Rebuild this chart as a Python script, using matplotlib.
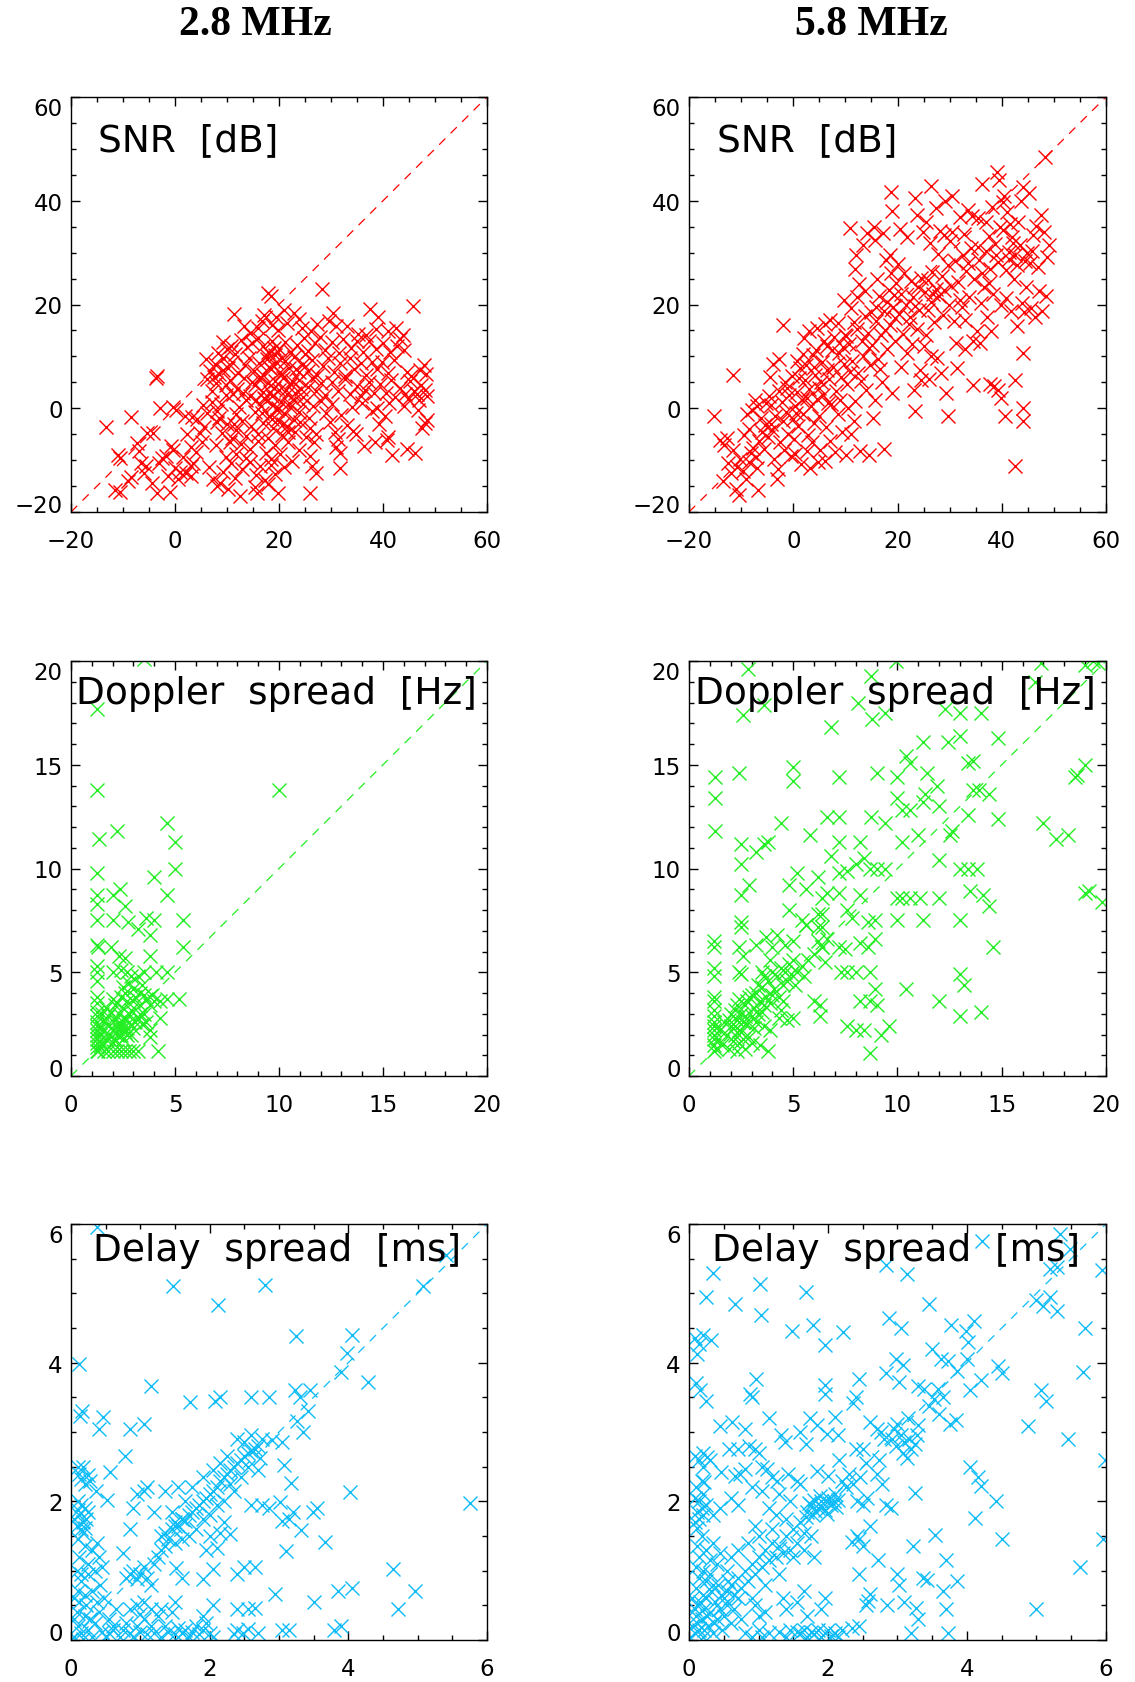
import numpy as np
import matplotlib
matplotlib.use("Agg")
import matplotlib.pyplot as plt
from matplotlib.ticker import MultipleLocator

# values (x = one sounding, y = the other)

snr_28 = [
    (-13.2, -3.6), (-8.4, -1.7), (-3.6, 5.8), (-3.4, 6.3), (-2.9, 0.1), (-0.4, 0.2), (0.1, -0.3),
    (-11.0, -9.0), (-10.5, -9.5), (-11.6, -15.7), (-10.5, -16.1), (-8.4, -13.2), (-9.0, -14.0),
    (-7.4, -6.7), (-7.0, -8.2), (-6.5, -10.6), (-6.0, -12.5), (-5.6, -11.2), (-5.4, -4.8),
    (-4.2, -4.7), (-4.4, -14.5), (-3.5, -16.4), (-3.0, -10.6), (-2.5, -9.6), (-1.7, -9.2),
    (-1.0, -16.2), (-1.3, -13.0), (-0.4, -8.1), (0.0, -11.5), (0.6, -13.6), (1.0, -12.3),
    (1.5, -9.4), (2.2, -12.4), (3.0, -11.2), (3.5, -10.6), (4.2, -2.1), (4.8, -4.8), (5.2, -6.5),
    (3.0, -7.5), (2.0, -1.4), (6.1, -0.9), (7.4, -13.7), (8.7, -14.4),
    (11.3, 18.2), (17.9, 22.3), (18.4, 21.6), (28.2, 23.0), (45.8, 19.8), (37.5, 19.1), (39.1, 17.6),
    (17.2, 18.0), (19.5, 17.5), (22.8, 18.4), (30.4, 18.3), (21.0, 19.0),
    (14.5, 14.6), (16.0, 15.5), (16.8, 16.8), (18.6, 16.0), (19.8, 15.0), (21.5, 16.5), (23.8, 17.2),
    (24.5, 15.4), (26.2, 14.8), (27.4, 16.2), (29.6, 16.9), (31.0, 15.8), (33.0, 15.9), (35.2, 14.4),
    (36.8, 14.2), (41.0, 14.8), (42.5, 15.5), (43.9, 14.2), (38.6, 15.2), (13.2, 15.8),
    (8.2, 10.6), (10.0, 11.4), (10.8, 12.0), (11.5, 10.5), (12.6, 13.2), (13.8, 11.8), (14.9, 12.6),
    (16.0, 13.5), (17.0, 12.0), (17.8, 10.8), (18.7, 13.0), (20.0, 11.5), (21.2, 12.8), (22.4, 10.9),
    (23.5, 12.2), (24.8, 13.6), (25.6, 11.0), (26.9, 12.5), (27.8, 13.8), (28.9, 11.2), (30.2, 12.7),
    (31.5, 10.6), (32.4, 13.3), (33.8, 11.6), (35.0, 12.9), (36.2, 10.8), (37.4, 13.0), (38.7, 11.5),
    (40.0, 12.5), (41.3, 10.9), (42.6, 12.0), (43.2, 13.4), (44.0, 11.2), (9.3, 12.8), (19.2, 10.3),
    (6.0, 9.4), (6.8, 7.2), (7.6, 8.5), (8.4, 6.6), (9.3, 9.6), (10.1, 7.8), (11.0, 9.0), (12.2, 6.8),
    (13.5, 8.4), (14.3, 9.7), (15.2, 7.1), (16.1, 8.8), (16.9, 6.4), (17.7, 9.5), (18.5, 7.6),
    (19.4, 8.9), (20.3, 6.6), (21.1, 9.2), (22.0, 7.8), (22.9, 9.9), (23.8, 6.9), (24.6, 8.5),
    (25.5, 7.2), (26.4, 9.3), (27.3, 6.4), (28.4, 8.1), (29.5, 9.6), (30.6, 7.0), (31.8, 8.8),
    (32.7, 6.3), (33.6, 9.7), (34.5, 7.5), (35.7, 8.7), (36.8, 6.5), (37.9, 9.0), (38.8, 7.6),
    (39.9, 8.9), (41.0, 6.8), (42.2, 9.3), (44.6, 7.0), (45.3, 6.2), (47.2, 7.4), (47.8, 8.3), (48.3, 6.6),
    (6.2, 5.6), (7.1, 3.3), (7.9, 4.8), (9.8, 2.6), (10.5, 5.4), (12.0, 3.7), (13.2, 5.9), (14.4, 2.4),
    (15.3, 4.4), (16.2, 5.7), (17.0, 3.1), (17.8, 4.9), (18.6, 2.3), (19.3, 5.2), (20.0, 3.6),
    (20.8, 5.8), (21.5, 2.7), (22.3, 4.6), (23.1, 3.0), (23.9, 5.5), (24.7, 2.2), (25.5, 4.1),
    (26.3, 5.9), (27.2, 3.3), (28.0, 4.8), (28.9, 2.5), (30.1, 5.0), (31.3, 3.4), (32.6, 5.6),
    (33.7, 2.8), (35.0, 4.3), (35.8, 2.4), (36.6, 3.5), (37.4, 5.1), (38.2, 2.9), (39.5, 4.6),
    (40.6, 3.0), (41.5, 5.4), (42.4, 2.2), (43.3, 4.0), (44.2, 2.8), (45.1, 5.2), (45.9, 3.3),
    (46.5, 2.7), (47.3, 4.5), (48.0, 3.6), (48.4, 2.4), (44.8, 1.8),
    (3.2, -1.6), (5.3, 0.6), (7.2, 1.2), (8.0, -0.5), (8.9, 0.9), (11.8, -1.2), (13.6, 1.5),
    (15.4, -0.8), (16.5, 0.4), (17.4, 1.8), (18.1, -1.5), (18.9, 0.7), (19.6, -0.4), (20.4, 1.3),
    (21.2, -1.1), (22.1, 0.2), (22.9, 1.6), (23.8, -0.7), (24.6, 0.9), (25.7, -1.8), (26.5, 0.5),
    (28.1, 1.4), (29.0, -0.9), (30.2, 0.8), (32.0, -1.3), (34.1, 0.3), (36.0, 1.1), (37.8, -0.6),
    (38.9, 0.1), (40.4, -1.5), (41.2, 1.0), (44.0, 0.4), (46.8, -0.3), (47.0, 1.5),
    (2.3, -5.0), (5.6, -3.6), (8.1, -2.6), (9.0, -4.8), (10.0, -3.1), (10.9, -5.7), (11.8, -4.2),
    (12.8, -2.4), (13.7, -5.4), (14.6, -3.5), (16.0, -4.9), (17.0, -2.8), (17.9, -5.8), (18.8, -3.9),
    (19.7, -2.3), (20.6, -5.1), (21.5, -3.4), (23.1, -4.5), (24.0, -2.6), (25.1, -5.6), (26.0, -3.8),
    (27.2, -5.0), (29.9, -2.7), (30.8, -4.6), (31.4, -5.9), (33.0, -3.2), (34.2, -4.3), (34.8, -5.0),
    (39.2, -3.0), (41.0, -5.5), (47.5, -3.8), (48.1, -2.8), (48.4, -2.2),
    (-0.8, -7.2), (4.1, -8.4), (7.9, -7.0), (9.8, -9.4), (10.6, -6.6), (11.7, -8.8), (12.7, -6.9),
    (13.6, -9.6), (14.4, -7.8), (16.0, -6.3), (17.5, -8.6), (18.5, -9.8), (19.3, -7.1), (20.2, -8.9),
    (21.8, -6.6), (23.9, -8.0), (25.9, -9.3), (26.8, -6.5), (31.0, -7.4), (31.8, -8.6), (36.4, -7.3),
    (40.7, -6.1), (41.8, -9.0), (44.6, -7.9), (46.2, -8.6), (38.5, -6.5),
    (3.1, -13.0), (6.6, -11.3), (9.2, -12.2), (10.8, -10.6), (11.6, -13.5), (12.9, -11.8),
    (14.5, -10.4), (15.5, -12.9), (16.4, -11.1), (17.3, -13.8), (18.4, -10.9), (19.2, -12.6),
    (21.0, -11.4), (22.5, -10.2), (26.3, -11.1), (27.2, -12.4), (31.7, -11.5),
    (8.0, -14.9), (10.2, -15.6), (12.5, -16.9), (15.3, -15.2), (15.8, -16.3), (17.8, -14.6),
    (19.9, -16.3), (26.0, -16.4),
    (16.4, 6.0), (17.2, 2.0), (18.0, 8.0), (18.6, -2.0), (19.0, 4.0), (19.8, 0.0), (20.2, 7.0),
    (20.7, -3.0), (21.4, 3.6), (21.9, 1.0), (22.5, 5.2), (16.8, -1.0), (17.6, 10.0), (18.2, 3.2),
    (19.1, 11.6), (20.5, 9.6), (21.7, -4.5), (22.8, -2.2), (23.3, 7.5), (24.2, 3.8), (25.0, 10.4),
    (15.6, 1.6), (14.8, 5.0), (13.0, 3.0), (12.4, 0.3), (11.2, 2.8), (9.9, 4.4), (9.2, 7.4),
    (8.5, -1.8), (7.5, 6.0), (11.4, -3.0),
]

snr_58 = [
    (-15.2, -1.4), (-11.6, 6.5), (42.5, -11.1), (37.7, 4.6), (38.6, 4.2), (39.3, 3.6), (39.8, 2.0),
    (44.1, 0.1), (44.1, -2.5), (40.6, -1.5), (29.7, -1.4), (23.3, -0.5), (44.1, 10.7), (42.5, 5.4),
    (48.3, 48.5), (10.8, 34.8), (18.8, 41.7), (11.8, 26.8), (26.5, 42.8), (23.3, 40.6), (-2.0, 16.0),
    (17.4, -7.9),
    (-14.0, -6.2), (-13.2, -7.0), (-12.6, -10.6), (-13.5, -14.0), (-12.0, -12.5), (-11.0, -15.5),
    (-10.4, -16.8), (-10.8, -11.4), (-11.6, -8.0), (-10.2, -9.8), (-12.8, -5.8),
    (-9.6, -12.0), (-9.0, -13.6), (-8.5, -10.4), (-8.2, -8.6), (-7.8, -7.6), (-7.2, -9.4),
    (-6.8, -15.8), (-6.5, -6.4), (-6.0, -4.6), (-5.6, -7.8), (-8.8, -1.2), (-8.0, -0.3), (-7.4, 1.5),
    (-6.9, 0.5), (-6.2, -1.8), (-5.5, -3.2), (-9.4, -5.2), (-7.0, -11.6), (-5.2, 1.0), (-8.4, -4.0),
    (-4.8, -5.6), (-4.3, -3.0), (-4.0, -4.2), (-3.5, -1.5), (-3.2, -13.6), (-3.0, -11.8), (-2.8, 3.4),
    (-2.5, -6.6), (-2.2, 1.2), (-2.0, -2.4), (-1.6, 5.0), (-1.4, -0.8), (-1.0, -4.9), (-0.8, 2.6),
    (-0.5, -9.2), (-0.3, 6.3), (-0.1, -2.0), (-4.5, 6.0), (-3.8, 8.6), (-2.7, 9.5), (-4.6, 2.4),
    (-1.8, -8.0), (-3.6, -9.8), (-1.2, 4.0), (-4.2, 0.6),
    (0.2, -6.0), (0.4, 0.4), (0.7, 3.2), (1.0, -3.5), (1.3, 7.8), (1.6, 1.6), (1.9, -1.2), (2.2, 5.4),
    (2.4, 8.4), (2.6, -8.3), (2.9, -5.2), (3.1, 3.8), (3.4, 0.5), (3.7, 10.2), (4.0, -2.8), (4.2, 6.4),
    (4.5, 15.5), (4.8, -10.4), (4.6, 1.8), (0.8, 9.2), (1.5, -10.8), (2.0, 13.6), (3.0, 14.8),
    (3.6, -6.6), (4.4, 11.2), (0.3, -8.8), (1.1, 5.8), (2.7, 2.0), (3.9, 8.0), (0.6, -1.0),
    (1.8, 10.5), (4.9, 4.0), (3.3, -11.5),
    (5.2, -8.0), (5.5, 9.0), (5.8, 2.6), (6.0, 16.2), (6.3, -3.6), (6.5, 12.0), (6.8, 5.6),
    (7.0, -6.4), (7.3, 0.8), (7.6, 8.0), (7.9, 13.8), (8.2, 3.4), (8.5, -1.2), (8.8, 10.6),
    (9.1, 6.0), (9.4, -4.6), (9.7, 20.8), (9.9, 14.2), (5.4, 5.0), (6.1, -10.2), (7.1, 17.0),
    (8.0, -8.4), (9.5, 11.8), (5.9, 13.0), (6.7, 1.0), (8.6, 16.4), (9.0, 1.6), (7.4, 11.2),
    (5.0, -1.5), (9.8, 8.6), (6.4, 7.4),
    (10.2, -9.0), (10.4, 4.6), (10.7, 12.4), (11.0, -5.0), (11.3, 9.2), (11.6, 16.6), (11.9, 1.4),
    (12.2, 21.4), (12.5, 6.8), (12.8, -8.2), (13.1, 13.0), (13.4, 10.0), (13.7, 17.8), (14.0, 3.6),
    (14.3, 14.6), (14.6, -9.0), (14.8, 8.4), (10.5, 0.0), (11.1, 19.4), (12.0, 29.5), (12.6, 24.0),
    (13.3, 31.5), (14.2, 33.8), (13.8, 22.6), (14.9, 18.6), (10.9, 7.0), (12.3, 15.2), (11.7, -2.5),
    (13.0, 5.2), (14.5, 11.6), (10.1, 14.0),
    (15.2, 12.2), (15.4, 35.0), (15.6, 1.6), (15.9, 16.8), (16.2, 9.4), (16.5, 21.6), (16.8, 14.2),
    (17.1, 5.0), (17.4, 18.8), (17.7, 28.5), (18.0, 11.4), (18.3, 22.8), (18.6, 16.0), (18.9, 38.0),
    (19.2, 19.6), (19.5, 13.0), (19.8, 24.2), (15.7, 32.4), (17.2, 33.8), (18.5, 29.5), (16.0, 25.0),
    (19.0, 3.0), (15.3, -1.8), (17.9, 20.4), (19.6, 17.4), (16.6, 7.6), (18.8, 26.0), (15.8, 19.6),
    (17.6, 15.0), (19.3, 21.8),
    (20.2, 18.2), (20.4, 34.6), (20.7, 22.0), (21.0, 14.4), (21.3, 26.0), (21.6, 20.0), (21.9, 10.6),
    (22.2, 16.2), (22.5, 24.6), (22.8, 12.4), (23.1, 3.6), (23.4, 19.8), (23.7, 37.2), (24.0, 23.4),
    (24.3, 7.4), (24.6, 25.2), (24.9, 34.0), (20.6, 8.0), (21.8, 33.0), (22.9, 21.4), (23.8, 15.2),
    (24.5, 5.4), (20.0, 27.8), (22.4, 17.6), (24.2, 19.0), (25.0, 12.0),
    (25.2, 22.5), (25.5, 36.0), (25.8, 24.8), (26.1, 5.6), (26.4, 20.4), (26.7, 26.2), (27.0, 16.6),
    (27.3, 23.0), (27.6, 9.6), (27.9, 21.6), (28.2, 34.2), (28.5, 25.4), (28.8, 18.0), (29.1, 40.0),
    (29.4, 3.0), (29.7, 27.6), (25.4, 14.2), (26.2, 31.8), (27.4, 38.6), (28.4, 6.8), (29.0, 22.8),
    (26.8, 22.0), (25.9, 19.0), (29.9, 20.0), (27.8, 29.8), (28.9, 33.4), (26.5, 10.0),
    (30.2, 23.6), (30.5, 41.0), (30.8, 16.8), (31.1, 28.4), (31.4, 7.8), (31.7, 24.4), (32.0, 36.8),
    (32.3, 19.6), (32.6, 29.6), (32.9, 11.4), (33.2, 26.4), (33.5, 38.2), (33.8, 21.4), (34.1, 30.8),
    (34.4, 4.4), (34.7, 25.0), (30.4, 34.0), (31.9, 20.8), (33.0, 17.0), (34.5, 13.0), (30.0, 32.2),
    (32.8, 33.6), (34.2, 37.0), (31.2, 12.6), (33.6, 28.0),
    (35.2, 14.8), (35.4, 36.6), (35.7, 28.6), (36.0, 20.2), (36.3, 43.2), (36.6, 23.4), (36.9, 30.4),
    (37.2, 17.6), (37.5, 33.2), (37.8, 26.8), (38.1, 38.8), (38.4, 22.0), (38.7, 31.6), (39.0, 45.6),
    (39.3, 28.2), (39.6, 35.0), (39.9, 20.0), (35.8, 12.6), (36.2, 26.0), (37.0, 36.0), (38.0, 14.8),
    (38.9, 29.6), (39.4, 44.0), (35.5, 31.0), (37.6, 24.2),
    (40.2, 34.4), (40.5, 41.0), (40.8, 26.6), (41.1, 37.8), (41.4, 30.2), (41.7, 18.8), (42.0, 33.0),
    (42.3, 25.0), (42.6, 29.6), (42.9, 15.8), (43.2, 36.0), (43.5, 31.4), (43.8, 20.2), (44.1, 42.6),
    (44.4, 28.4), (44.7, 23.4), (40.3, 39.8), (41.6, 35.6), (42.2, 31.8), (43.0, 27.6), (44.2, 18.6),
    (40.9, 21.2), (41.3, 28.8), (43.6, 40.0), (44.8, 30.0),
    (45.2, 41.4), (45.4, 28.0), (45.7, 19.4), (46.0, 33.4), (46.3, 17.6), (46.6, 35.2), (46.9, 27.2),
    (47.2, 22.6), (47.5, 37.2), (47.8, 18.8), (48.1, 34.0), (48.4, 21.6), (49.1, 31.4), (48.6, 29.2),
    (45.8, 30.4),
]

dop_28 = [
    (1.25, 17.7), (1.25, 13.8), (1.36, 11.4), (1.25, 9.8), (1.25, 8.7), (1.25, 8.3), (1.25, 7.5),
    (1.25, 6.3), (1.3, 6.2), (1.25, 5.3), (1.25, 5.0), (1.25, 4.6), (1.25, 3.8), (1.25, 3.5),
    (1.25, 3.1), (1.25, 2.9), (1.25, 2.6), (1.25, 2.4), (1.25, 2.2), (1.25, 2.0), (1.25, 1.8),
    (1.25, 1.6), (1.25, 1.4), (1.25, 1.2), (1.4, 2.0), (1.45, 2.3), (1.4, 1.7), (1.5, 1.5),
    (1.3, 1.2), (1.6, 1.2), (1.8, 1.2), (2.0, 1.2), (2.2, 1.2), (2.4, 1.2), (2.6, 1.2), (2.8, 1.2),
    (3.0, 1.2), (3.2, 1.2), (4.2, 1.2),
    (1.6, 2.2), (1.8, 2.5), (1.9, 1.9), (2.0, 2.2), (2.1, 2.7), (2.2, 2.0), (2.3, 3.0), (2.4, 2.4),
    (2.5, 3.3), (2.6, 2.1), (2.7, 3.6), (2.8, 2.6), (2.9, 3.2), (3.0, 2.3), (3.1, 3.8), (3.2, 2.8),
    (3.3, 3.4), (2.2, 3.5), (2.4, 3.8), (2.6, 4.0), (1.7, 1.8), (2.0, 1.6), (2.3, 2.6), (2.5, 1.8),
    (2.7, 2.3), (2.9, 2.0), (1.9, 3.1), (2.1, 3.4), (1.5, 3.0), (1.6, 2.6), (2.0, 3.7), (3.4, 2.5),
    (3.6, 3.7), (3.8, 3.4), (3.5, 3.0), (2.8, 4.5), (2.5, 4.3), (2.9, 4.8), (3.2, 4.8), (3.4, 4.4),
    (2.0, 5.0), (2.4, 5.1), (2.7, 5.0), (3.0, 4.2), (3.5, 3.9), (3.9, 3.9), (4.3, 3.6), (4.6, 3.7),
    (5.2, 3.7), (4.3, 2.8), (3.8, 2.2), (3.6, 2.6), (3.8, 1.9), (4.6, 5.0), (4.1, 5.0), (3.5, 5.0),
    (3.8, 5.8), (3.8, 6.8), (2.6, 5.7), (2.3, 5.8), (1.9, 6.2), (2.0, 7.5), (2.75, 7.4), (3.2, 7.1),
    (3.6, 7.6), (4.0, 7.5), (5.4, 7.5), (5.4, 6.2), (2.0, 8.7), (2.35, 9.0), (2.6, 8.2), (4.6, 8.7),
    (4.0, 9.6), (5.0, 10.0), (5.0, 11.3), (4.6, 12.2), (2.2, 11.8), (10.0, 13.8), (3.5, 20.1),
    (3.3, 4.0), (3.0, 3.6), (2.6, 2.8), (2.2, 2.4), (1.8, 2.9), (2.4, 2.0), (2.1, 1.8), (2.8, 3.0),
    (3.1, 2.6), (1.7, 3.3), (2.5, 2.6), (2.3, 2.2), (1.9, 2.3), (2.7, 2.0), (3.3, 3.0), (4.0, 3.6),
]

dop_58 = [
    (2.83, 19.6), (2.6, 17.4), (3.6, 17.9), (6.8, 16.8), (8.1, 18.0), (8.75, 19.3), (8.8, 17.2),
    (9.4, 17.5), (9.95, 20.0), (12.3, 17.7), (13.0, 17.5), (14.0, 17.5), (12.4, 16.1), (13.0, 16.4),
    (14.8, 16.3), (11.2, 16.1), (10.4, 15.4), (10.6, 15.1), (13.4, 15.1), (13.6, 15.2), (11.4, 14.6),
    (10.0, 14.4), (9.0, 14.6), (7.2, 14.4), (5.0, 14.9), (5.0, 14.2), (2.4, 14.6), (1.26, 14.4),
    (1.26, 13.4), (1.26, 11.8), (4.4, 12.2), (6.6, 12.5), (7.2, 12.5), (8.75, 12.5), (9.4, 12.2),
    (10.0, 13.4), (10.2, 12.8), (10.6, 12.8), (11.2, 13.2), (11.3, 13.6), (11.9, 14.0), (12.0, 13.0),
    (13.6, 13.8), (13.9, 13.8), (13.4, 12.6), (14.4, 13.6), (14.8, 12.4), (12.6, 11.8), (12.5, 11.6),
    (11.0, 11.6), (10.2, 11.3), (8.2, 11.3), (7.2, 11.3), (5.8, 11.6), (3.8, 11.3), (3.6, 11.2),
    (3.2, 10.8), (2.5, 11.2), (2.5, 10.2), (2.9, 9.2), (2.5, 8.7), (2.5, 7.4), (2.5, 7.2), (2.4, 6.2),
    (2.6, 5.8), (2.4, 5.0), (2.5, 4.9), (1.2, 6.5), (1.2, 6.2), (1.2, 5.2), (1.2, 4.8), (1.2, 3.8),
    (1.2, 3.6), (1.2, 3.2), (1.2, 2.9), (1.2, 2.6), (1.2, 2.4), (1.2, 2.2), (1.2, 2.0), (1.2, 1.8),
    (1.2, 1.5), (1.2, 1.2),
    (6.8, 10.6), (7.2, 9.8), (6.2, 9.6), (5.2, 9.8), (4.8, 9.2), (5.6, 9.0), (6.6, 8.8), (6.4, 8.6),
    (7.6, 9.9), (8.0, 10.2), (8.4, 10.5), (8.7, 10.0), (9.0, 10.0), (9.4, 10.0), (8.2, 8.7),
    (7.2, 8.8), (7.6, 8.0), (4.8, 8.0), (5.4, 7.5), (5.6, 7.3), (6.2, 7.8), (6.4, 7.2), (6.4, 6.2),
    (6.6, 6.6), (7.8, 7.6), (8.6, 7.4), (8.9, 7.5), (8.9, 6.6), (8.6, 6.2), (8.2, 6.4), (7.2, 6.2),
    (7.5, 6.1), (7.3, 5.0), (7.6, 5.0), (8.0, 5.0), (8.7, 5.0), (8.9, 4.2), (8.7, 3.6), (8.2, 3.6),
    (9.0, 3.4), (7.6, 2.4), (8.0, 2.2), (8.4, 2.2), (9.2, 2.0), (9.6, 2.4), (8.7, 1.1), (10.2, 8.6),
    (10.6, 8.6), (10.0, 8.6), (11.1, 8.6), (12.0, 8.6), (11.2, 7.5), (10.0, 7.5), (10.4, 4.2),
    (12.0, 3.6), (13.0, 10.0), (13.4, 10.0), (13.8, 10.0), (12.0, 10.4), (13.5, 8.9), (14.1, 8.7),
    (14.4, 8.2), (13.0, 7.5), (14.6, 6.2), (13.0, 4.9), (13.2, 4.4), (13.0, 2.9), (14.0, 3.1),
    (17.0, 12.2), (17.6, 11.4), (18.2, 11.6), (18.5, 14.4), (18.6, 14.5), (19.0, 15.0), (19.0, 8.8),
    (19.2, 8.9), (19.8, 8.4), (16.6, 19.0), (16.9, 19.9), (19.0, 19.8), (19.4, 20.0), (19.6, 19.9),
    (6.0, 3.6), (6.3, 3.4), (6.3, 2.9), (5.0, 2.8), (4.7, 2.7),
    (1.6, 1.5), (1.8, 2.0), (1.9, 1.3), (2.0, 2.4), (2.1, 1.7), (2.2, 2.8), (2.3, 1.2), (2.4, 2.2),
    (2.5, 3.0), (2.6, 1.8), (2.7, 3.4), (2.8, 2.5), (2.9, 3.8), (3.0, 2.9), (3.1, 3.3), (3.2, 4.0),
    (3.3, 3.0), (3.4, 3.6), (3.5, 4.3), (3.6, 3.4), (3.7, 3.8), (3.8, 4.6), (3.9, 3.5), (4.0, 5.0),
    (4.1, 4.2), (4.2, 4.8), (4.3, 3.8), (4.4, 5.2), (4.5, 4.4), (4.6, 5.0), (4.7, 4.6), (4.8, 5.4),
    (4.9, 4.9), (5.0, 5.6), (5.2, 5.0), (5.4, 5.3), (5.5, 4.8), (5.7, 5.6), (6.0, 5.9), (6.2, 6.5),
    (6.4, 6.2), (6.5, 5.5), (6.2, 7.2), (6.4, 7.8), (5.6, 7.3), (3.7, 6.7), (4.0, 6.2), (3.2, 6.3),
    (4.6, 6.3), (5.0, 6.5), (4.2, 6.8), (3.9, 5.6), (3.5, 5.0), (2.2, 2.0), (2.4, 1.6), (2.6, 2.6),
    (2.0, 3.0), (2.3, 3.4), (2.7, 1.3), (3.0, 1.6), (3.4, 1.5), (3.8, 1.2), (3.6, 2.4), (3.9, 2.2),
    (4.3, 2.8), (4.4, 3.2), (3.1, 2.3), (2.9, 1.9), (1.7, 2.6), (1.5, 2.2), (1.4, 1.8), (1.3, 1.3),
    (2.1, 2.3), (2.3, 2.7), (2.5, 2.1), (2.7, 2.9), (2.8, 3.6), (3.0, 3.9), (3.3, 4.4), (3.6, 4.8),
    (2.2, 3.2), (1.9, 2.7), (2.4, 3.7), (3.2, 2.6), (3.5, 3.1), (4.0, 3.9), (4.5, 3.6), (5.1, 4.4),
]

del_28 = [
    (0.37, 5.95), (1.47, 5.1), (2.8, 5.12), (2.12, 4.83), (3.25, 4.39), (4.06, 4.4), (3.98, 4.14),
    (3.89, 3.87), (4.28, 3.72), (0.12, 3.98), (1.16, 3.66), (1.71, 3.43), (2.07, 3.45), (2.15, 3.5),
    (2.6, 3.5), (2.86, 3.5), (3.23, 3.6), (3.44, 3.6), (3.3, 3.5), (3.42, 3.3), (3.26, 3.16),
    (3.35, 3.0), (3.05, 2.85), (2.9, 2.88), (5.41, 5.55), (5.08, 5.1),
    (0.13, 3.23), (0.16, 3.3), (0.46, 3.22), (0.4, 3.05), (0.85, 3.05), (1.06, 3.12), (0.78, 2.65),
    (0.56, 2.42), (0.52, 2.02), (0.36, 2.15), (0.1, 2.5), (0.12, 2.4), (0.15, 2.32), (0.2, 2.25),
    (0.24, 2.38), (0.18, 2.5), (0.28, 2.3),
    (0.9, 1.9), (0.85, 1.6), (0.95, 2.1), (1.05, 2.15), (1.1, 2.2), (1.2, 1.85), (1.35, 2.15),
    (1.45, 1.85), (1.35, 1.55), (1.4, 1.45), (1.5, 1.65), (1.55, 2.2), (1.6, 1.75),
    (0.75, 1.26), (0.8, 0.9), (0.9, 1.0), (1.0, 0.95), (1.1, 0.9), (1.2, 1.1), (1.25, 1.2),
    (1.3, 1.3), (1.15, 0.8), (0.95, 0.88), (1.05, 1.05), (0.85, 0.95),
    (1.52, 1.04), (1.6, 0.9), (1.9, 0.88), (2.05, 1.02), (1.95, 1.3), (2.1, 1.32), (2.4, 0.95),
    (2.5, 1.05), (2.65, 1.05), (2.94, 0.67), (3.1, 1.28), (3.07, 2.52), (3.18, 2.27), (3.01, 1.99),
    (3.2, 1.85), (3.15, 1.75), (3.05, 1.72), (3.32, 1.59), (3.49, 1.84), (3.55, 1.9), (3.66, 1.41),
    (2.6, 1.95), (2.75, 1.95), (2.85, 1.9), (4.02, 2.13), (5.75, 1.97), (4.65, 1.02), (4.96, 0.7),
    (4.72, 0.44), (3.85, 0.7), (4.05, 0.75), (3.5, 0.55), (3.05, 0.15), (3.15, 0.14), (3.8, 0.15),
    (3.9, 0.2), (2.05, 0.5), (2.4, 0.45), (2.55, 0.45), (2.65, 0.46), (2.4, 0.15), (2.48, 0.1),
    (2.55, 0.16), (2.7, 0.1), (2.35, 0.08),
    (0.05, 0.05), (0.1, 0.2), (0.15, 0.1), (0.2, 0.35), (0.25, 0.15), (0.08, 0.4), (0.3, 0.05),
    (0.35, 0.25), (0.12, 0.55), (0.18, 0.02), (0.4, 0.4), (0.45, 0.12), (0.22, 0.5), (0.05, 0.3),
    (0.28, 0.3), (0.5, 0.05), (0.38, 0.55), (0.1, 0.7), (0.55, 0.3), (0.15, 0.85), (0.3, 0.7),
    (0.6, 0.15), (0.48, 0.6), (0.05, 0.6), (0.2, 0.65), (0.65, 0.45), (0.42, 0.8), (0.25, 0.95),
    (0.08, 1.0), (0.12, 1.2), (0.15, 0.95), (0.2, 1.35), (0.25, 1.1), (0.1, 1.45), (0.3, 1.3),
    (0.35, 1.0), (0.4, 1.2), (0.45, 1.05), (0.38, 1.4), (0.18, 1.55),
    (0.08, 1.65), (0.12, 1.8), (0.15, 1.95), (0.18, 1.7), (0.2, 1.9), (0.22, 1.75), (0.1, 2.0),
    (0.25, 1.85), (0.05, 1.75), (0.14, 1.6), (0.1, 1.88), (0.2, 1.62),
    (0.55, 0.1), (0.6, 0.2), (0.7, 0.05), (0.75, 0.15), (0.8, 0.25), (0.85, 0.1), (0.9, 0.05),
    (0.95, 0.2), (1.0, 0.12), (1.05, 0.3), (1.1, 0.08), (1.15, 0.2), (1.2, 0.1), (1.25, 0.35),
    (1.3, 0.05), (1.35, 0.2), (1.4, 0.12), (1.45, 0.4), (1.5, 0.08), (1.55, 0.18), (1.6, 0.1),
    (1.65, 0.15), (1.7, 0.05), (1.75, 0.12), (1.8, 0.2), (1.85, 0.08), (1.9, 0.15), (1.95, 0.25),
    (2.0, 0.1), (2.05, 0.05), (0.85, 0.45), (0.95, 0.5), (1.05, 0.55), (1.15, 0.45), (1.0, 0.38),
    (1.3, 0.45), (1.5, 0.55), (1.9, 0.35),
    (1.45, 1.6), (1.5, 1.7), (1.55, 1.65), (1.6, 1.75), (1.65, 1.72), (1.7, 1.8), (1.75, 1.85),
    (1.8, 1.9), (1.85, 1.95), (1.9, 2.0), (1.95, 2.05), (2.0, 2.1), (2.05, 2.15), (2.1, 2.2),
    (2.15, 2.3), (2.2, 2.35), (2.25, 2.4), (2.3, 2.45), (2.35, 2.5), (2.4, 2.55), (2.45, 2.6),
    (2.5, 2.65), (2.55, 2.7), (2.6, 2.72), (2.65, 2.75), (2.7, 2.8), (2.72, 2.62), (2.75, 2.9),
    (2.4, 2.9), (2.5, 2.85), (2.6, 2.95), (2.3, 2.25), (2.45, 2.35), (2.55, 2.5), (2.7, 2.45),
    (2.0, 1.8), (1.9, 1.75), (2.1, 1.95), (2.2, 2.0), (2.2, 1.7), (1.8, 1.6), (1.7, 1.5),
    (2.05, 2.45), (1.9, 2.35), (1.75, 2.2), (2.15, 2.55), (2.25, 2.65), (2.35, 2.15), (1.65, 2.0),
    (1.6, 1.45), (1.5, 1.4), (2.0, 1.5), (1.3, 1.5), (1.35, 1.35), (2.29, 1.53), (2.15, 1.55),
]

del_58 = [
    (0.35, 5.3), (0.24, 4.95), (0.66, 4.84), (1.02, 5.13), (1.04, 4.69), (1.69, 5.02), (2.84, 5.41),
    (3.13, 5.28), (4.21, 5.75), (5.34, 5.86), (5.48, 5.64), (5.19, 5.35), (5.3, 5.38), (5.94, 5.33),
    (5.7, 4.5), (5.67, 3.86), (5.0, 4.9), (5.1, 4.82), (5.2, 4.95), (5.3, 4.75), (3.46, 4.85),
    (2.88, 4.65), (3.05, 4.5), (3.77, 4.55), (3.98, 4.45), (4.02, 4.3), (4.1, 4.6), (3.5, 4.2),
    (3.73, 4.02), (3.62, 4.05), (4.0, 4.05), (3.85, 3.88), (2.98, 4.05), (3.08, 3.97), (4.45, 3.95),
    (4.5, 3.85), (4.2, 3.75), (4.05, 3.6), (5.07, 3.6), (5.13, 3.45), (4.88, 3.08), (5.45, 2.9),
    (5.98, 2.6),
    (0.08, 4.35), (0.14, 4.27), (0.2, 4.4), (0.32, 4.32), (0.12, 4.12), (0.1, 3.7), (0.16, 3.6),
    (0.24, 3.45), (0.88, 3.55), (0.9, 3.5), (0.97, 3.77), (1.48, 4.45), (1.79, 4.54), (2.22, 4.44),
    (1.95, 4.25), (1.95, 3.68), (1.95, 3.55), (2.45, 3.77), (2.4, 3.5), (2.36, 3.42), (2.84, 3.85),
    (3.02, 3.72), (3.3, 3.66), (3.38, 3.62), (3.52, 3.48), (3.58, 3.62), (3.6, 3.26), (3.75, 3.12),
    (3.84, 3.17), (3.65, 3.5), (3.45, 3.38),
    (2.1, 3.22), (1.74, 3.2), (1.84, 3.1), (1.98, 2.97), (2.14, 2.95), (1.6, 3.0), (1.68, 2.82),
    (1.32, 2.95), (1.38, 2.86), (1.15, 3.2), (0.44, 3.08), (0.62, 3.15), (0.8, 3.05), (0.58, 2.75),
    (0.7, 2.76), (0.86, 2.8), (0.95, 2.75), (1.0, 2.7),
    (0.08, 2.66), (0.14, 2.6), (0.2, 2.7), (0.26, 2.64), (0.3, 2.6), (0.2, 2.5), (0.46, 2.42),
    (0.66, 2.36), (0.8, 2.46), (0.74, 2.4), (1.05, 2.5), (1.12, 2.46), (1.2, 2.35), (1.26, 2.3),
    (1.42, 2.4), (1.56, 2.3), (1.84, 2.44), (2.0, 2.36), (2.16, 2.6), (2.4, 2.76), (2.5, 2.75),
    (2.6, 3.15), (2.7, 3.05), (2.76, 3.0), (2.8, 2.9), (2.95, 3.05), (3.0, 3.12), (3.05, 2.95),
    (3.1, 2.85), (3.16, 2.9), (3.2, 2.76), (2.98, 2.8), (3.08, 2.7), (3.14, 2.62), (3.25, 2.82),
    (3.28, 2.95), (2.92, 2.9), (3.3, 3.1), (3.15, 3.2),
    (3.25, 2.12), (2.9, 1.9), (2.84, 1.95), (2.78, 2.25), (2.7, 2.4), (2.74, 2.6), (2.55, 2.55),
    (2.2, 2.3), (2.3, 2.4), (2.36, 2.25), (2.46, 2.35), (2.26, 2.2), (2.42, 2.0), (2.5, 1.95),
    (2.56, 2.05), (2.6, 1.65), (2.42, 1.5), (2.5, 1.36), (2.45, 1.45), (2.35, 1.42), (2.45, 0.95),
    (2.72, 1.15), (3.54, 1.51), (3.22, 1.35), (3.7, 1.16), (3.0, 0.95), (3.02, 0.8), (3.42, 0.86),
    (3.36, 0.9), (3.66, 0.7), (3.86, 0.85), (3.7, 0.45), (3.3, 0.3), (3.2, 0.1), (3.72, 0.1),
    (3.26, 0.46), (3.1, 0.55), (2.85, 0.5), (2.6, 0.66), (2.58, 0.56), (2.54, 0.5), (4.05, 2.5),
    (4.16, 2.35), (4.2, 2.22), (4.42, 2.0), (4.12, 1.76), (4.5, 1.45), (5.0, 0.45), (5.62, 1.05),
    (5.96, 1.45),
    (1.7, 1.85), (1.75, 1.95), (1.8, 2.02), (1.85, 1.9), (1.9, 2.0), (1.95, 1.88), (2.0, 2.05),
    (2.05, 1.95), (2.1, 2.1), (1.78, 1.8), (1.88, 2.08), (1.98, 1.82), (2.08, 2.0), (1.72, 1.98),
    (1.92, 1.92), (2.02, 1.98), (2.12, 1.92), (1.82, 1.86), (2.15, 2.02), (1.68, 1.78),
    (0.08, 1.7), (0.12, 1.85), (0.15, 2.0), (0.18, 1.9), (0.2, 2.1), (0.1, 2.2), (0.22, 2.28),
    (0.14, 1.75), (0.25, 1.95), (0.08, 2.05), (0.18, 2.3), (0.12, 1.62), (0.2, 1.8),
    (0.1, 1.05), (0.15, 1.2), (0.2, 1.0), (0.25, 1.3), (0.3, 1.15), (0.35, 1.4), (0.12, 1.35),
    (0.4, 1.1), (0.45, 1.25), (0.18, 1.5),
    (0.5, 0.6), (0.55, 0.7), (0.6, 0.8), (0.65, 0.65), (0.7, 0.9), (0.75, 0.75), (0.8, 1.0),
    (0.85, 0.85), (0.9, 1.1), (0.95, 0.95), (1.0, 1.2), (1.05, 1.05), (1.1, 1.3), (1.15, 1.15),
    (1.2, 1.4), (1.25, 1.2), (1.3, 1.35), (1.35, 1.25), (1.4, 1.5), (1.45, 1.3), (1.5, 1.6),
    (1.55, 1.4), (1.6, 1.7), (1.65, 1.55), (1.0, 1.5), (0.85, 1.4), (1.2, 1.6), (1.4, 1.75),
    (0.7, 1.3), (1.5, 1.2), (1.3, 0.95), (1.65, 1.3), (0.6, 1.2), (0.95, 1.65), (1.75, 1.5),
    (1.1, 0.8), (0.9, 0.6), (1.8, 1.2), (0.55, 1.0), (1.25, 1.8),
    (0.6, 2.05), (0.7, 1.95), (0.9, 2.2), (1.05, 2.15), (1.15, 1.9), (1.3, 2.1), (0.35, 1.8),
    (0.45, 1.9), (1.45, 2.0), (1.6, 2.25),
    (0.02, 0.05), (0.05, 0.2), (0.08, 0.1), (0.1, 0.35), (0.12, 0.5), (0.15, 0.15), (0.18, 0.3),
    (0.2, 0.05), (0.22, 0.45), (0.25, 0.6), (0.28, 0.2), (0.3, 0.4), (0.32, 0.7), (0.35, 0.1),
    (0.38, 0.55), (0.4, 0.3), (0.42, 0.8), (0.45, 0.45), (0.48, 0.15), (0.5, 0.35), (0.05, 0.6),
    (0.1, 0.75), (0.15, 0.9), (0.2, 0.65), (0.25, 0.85), (0.3, 0.95), (0.35, 0.8), (0.55, 0.5),
    (0.6, 0.25), (0.65, 0.45), (0.7, 0.6), (0.75, 0.3), (0.08, 0.45), (0.16, 0.55), (0.26, 0.35),
    (0.36, 0.25), (0.46, 0.65), (0.56, 0.85), (0.12, 0.25), (0.22, 0.15),
    (0.8, 0.1), (0.9, 0.05), (1.0, 0.15), (1.05, 0.05), (1.15, 0.1), (1.3, 0.12), (1.4, 0.05),
    (1.45, 0.15), (1.6, 0.1), (1.65, 0.15), (1.7, 0.05), (1.75, 0.12), (1.8, 0.08), (1.85, 0.15),
    (1.9, 0.05), (1.95, 0.1), (2.0, 0.14), (2.05, 0.06), (2.1, 0.1), (2.2, 0.15), (2.35, 0.18),
    (2.45, 0.2), (1.55, 0.12), (2.15, 0.05), (1.0, 0.35), (1.1, 0.4), (1.7, 0.35), (1.9, 0.45),
    (1.95, 0.6), (1.55, 0.55), (1.4, 0.45), (1.65, 0.7), (1.35, 0.6), (0.95, 0.5),
]

titles = ["2.8 MHz", "5.8 MHz"]
labels = ["SNR  [dB]", "Doppler  spread  [Hz]", "Delay  spread  [ms]"]
limits = [(-20, 60), (0, 20), (0, 6)]
major_step = [20, 5, 2]
minor_step = [5, 1, 0.5]

red = "#ff0000"
green = "#22ee22"
blue = "#0cbcf8"

fig = plt.figure(figsize=(11.35, 16.83), dpi=100)

col_x = [71 / 1135, 689 / 1135]
col_w = [416 / 1135, 417 / 1135]
row_y = [1 - 513 / 1683, 1 - 1077 / 1683, 1 - 1641 / 1683]
row_h = [415 / 1683, 415 / 1683, 416 / 1683]
# label position (axes fraction) per row / column
lab_x = [(0.064, 0.067), (0.012, 0.014), (0.053, 0.055)]
lab_y = [0.872, 0.899, 0.913]

data = [[snr_28, snr_58], [dop_28, dop_58], [del_28, del_58]]
colors = [red, green, blue]
tick_font = ["DejaVu Sans"]

for r in range(3):
    for c in range(2):
        ax = fig.add_axes([col_x[c], row_y[r], col_w[c], row_h[r]])
        lo, hi = limits[r]
        pts = np.array(data[r][c])
        ax.plot([lo, hi], [lo, hi], color=colors[r], lw=0.9, dashes=(7, 6))
        ax.plot(pts[:, 0], pts[:, 1], "x", color=colors[r], ms=10, mew=1.0)
        ax.set_xlim(lo, hi)
        ax.set_ylim(lo, hi)
        ticks = np.arange(lo, hi + 1e-9, major_step[r])
        ax.set_xticks(ticks)
        ax.set_yticks(ticks)
        txt = [("\u2212%g" % -t) if t < 0 else "%g" % t for t in ticks]
        ax.set_xticklabels(txt, family=tick_font, fontsize=16.5)
        ax.set_yticklabels(txt, family=tick_font, fontsize=16.5)
        ax.xaxis.set_minor_locator(MultipleLocator(minor_step[r]))
        ax.yaxis.set_minor_locator(MultipleLocator(minor_step[r]))
        ax.tick_params(which="both", direction="in", top=True, right=True, width=1.0, color="black")
        ax.tick_params(which="major", length=6.5)
        ax.tick_params(which="minor", length=3.6)
        ax.tick_params(axis="x", pad=12)
        ax.tick_params(axis="y", pad=6)
        yt = ax.yaxis.get_major_ticks()
        yt[0].label1.set_verticalalignment("baseline")
        yt[-1].label1.set_verticalalignment("top")
        for s in ax.spines.values():
            s.set_linewidth(1.0)
            s.set_color("black")
        ax.text(lab_x[r][c], lab_y[r], labels[r], transform=ax.transAxes,
                fontsize=27, family=tick_font, ha="left", va="baseline", zorder=5)

fig.text(255 / 1135, 1 - 35 / 1683, titles[0], ha="center", va="baseline",
         fontsize=30, fontweight="bold", family="Liberation Serif")
fig.text(871 / 1135, 1 - 35 / 1683, titles[1], ha="center", va="baseline",
         fontsize=30, fontweight="bold", family="Liberation Serif")

fig.savefig("out.png", dpi=100)
